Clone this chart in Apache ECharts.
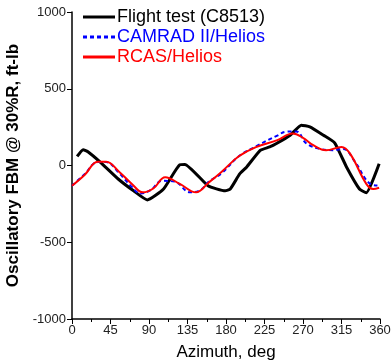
<!DOCTYPE html>
<html><head><meta charset="utf-8">
<script src="https://cdn.jsdelivr.net/npm/echarts@6/dist/echarts.min.js"></script>
<style>html,body{margin:0;padding:0;background:#fff}#c{width:391px;height:364px}</style>
</head><body><div id="c"></div>
<script>
var xTicks = [0, 45, 90, 135, 180, 225, 270, 315, 360];
var yTicks = [-1000, -500, 0, 500, 1000];
var seriesNames = ['Flight test (C8513)', 'CAMRAD II/Helios', 'RCAS/Helios'];

var flightDeg = [6, 13, 19, 33, 54, 72, 88, 107, 126, 132, 159, 179, 185, 196, 204, 220, 231, 239, 255, 268, 278, 294, 307, 321, 336, 344, 359];
var flightVal = [59, 103, 88, 22, -88, -165, -224, -153, 5, 7, -132, -165, -153, -55, -11, 99, 121, 143, 197, 263, 252, 197, 148, -11, -153, -178, 11];

var camradDeg = [0, 15, 30, 40, 55, 70, 80, 92, 105, 120, 138, 150, 160, 175, 195, 215, 240, 250, 262, 274, 290, 305, 317, 330, 348, 357];
var camradVal = [-132, -55, 22, 22, -50, -140, -182, -160, -100, -105, -175, -160, -105, -50, 60, 125, 195, 220, 222, 143, 108, 100, 108, 30, -118, -130];

var rcasDeg = [0, 15, 30, 40, 55, 70, 83, 95, 109, 126, 145, 160, 175, 195, 215, 240, 258, 270, 282, 297, 315, 325, 344, 352, 359];
var rcasVal = [-132, -60, 25, 25, -40, -120, -175, -150, -77, -120, -175, -110, -40, 60, 120, 165, 208, 180, 132, 99, 121, 77, -120, -153, -145];

function pairs(xs, ys) { return xs.map(function (x, i) { return [x, ys[i]]; }); }

var chart = echarts.init(document.getElementById('c'), null, {renderer: 'canvas'});
var font = 'Liberation Sans, Arial, sans-serif';
chart.setOption({
  animation: false,
  backgroundColor: '#fff',
  grid: {left: 72, right: 11, top: 12, bottom: 45, containLabel: false, outerBoundsMode: 'none'},
  legend: {
    left: 78, top: 3, orient: 'vertical', itemGap: 2, itemWidth: 32, itemHeight: 3,
    symbolKeepAspect: false,
    textStyle: {fontFamily: font, fontSize: 18, padding: [0, 0, 0, -3]},
    data: [
      {name: seriesNames[0], icon: 'path://M0,0h32v3h-32z', textStyle: {color: '#000'}},
      {name: seriesNames[1], icon: 'path://M0,0h4v2h-4zM7,0h4v2h-4zM14,0h4v2h-4zM21,0h4v2h-4zM28,0h4v2h-4z', textStyle: {color: '#0000ff'}},
      {name: seriesNames[2], icon: 'path://M0,0h32v2h-32z', textStyle: {color: '#ff0000'}}
    ]
  },
  xAxis: {
    type: 'value', min: 0, max: 360, interval: 45,
    name: 'Azimuth, deg', nameLocation: 'middle', nameGap: 25,
    nameTextStyle: {fontFamily: font, fontSize: 17, color: '#000'},
    axisLine: {show: true, onZero: false, lineStyle: {color: '#000', width: 1.5}},
    axisTick: {show: true, inside: false, length: 5, lineStyle: {color: '#000'}},
    minorTick: {show: true, splitNumber: 2, length: 3, lineStyle: {color: '#000'}},
    axisLabel: {fontFamily: font, fontSize: 13, color: '#222', margin: 5,
      formatter: function (v) { return xTicks.indexOf(v) >= 0 ? String(v) : ''; }},
    splitLine: {show: false}
  },
  yAxis: {
    type: 'value', min: -1000, max: 1000, interval: 500,
    name: 'Oscillatory FBM @ 30%R, ft-lb', nameLocation: 'middle', nameGap: 41,
    nameTextStyle: {fontFamily: font, fontSize: 17, fontWeight: 'bold', color: '#000'},
    axisLine: {show: true, onZero: false, lineStyle: {color: '#000', width: 1.5}},
    axisTick: {show: true, inside: false, length: 5, lineStyle: {color: '#000'}},
    axisLabel: {fontFamily: font, fontSize: 13, color: '#222', margin: 6,
      formatter: function (v) { return yTicks.indexOf(v) >= 0 ? String(v) : ''; }},
    splitLine: {show: false}
  },
  series: [
    {name: seriesNames[0], type: 'line', data: pairs(flightDeg, flightVal), symbol: 'none',
     smooth: 0.15, lineStyle: {color: '#000', width: 3}, itemStyle: {color: '#000'}, z: 3},
    {name: seriesNames[1], type: 'line', data: pairs(camradDeg, camradVal), symbol: 'none',
     smooth: 0.4, lineStyle: {color: '#0000ff', width: 2, type: [4, 3]}, itemStyle: {color: '#0000ff'}, z: 4},
    {name: seriesNames[2], type: 'line', data: pairs(rcasDeg, rcasVal), symbol: 'none',
     smooth: 0.4, lineStyle: {color: '#ff0000', width: 2}, itemStyle: {color: '#ff0000'}, z: 5}
  ]
});
</script></body></html>
